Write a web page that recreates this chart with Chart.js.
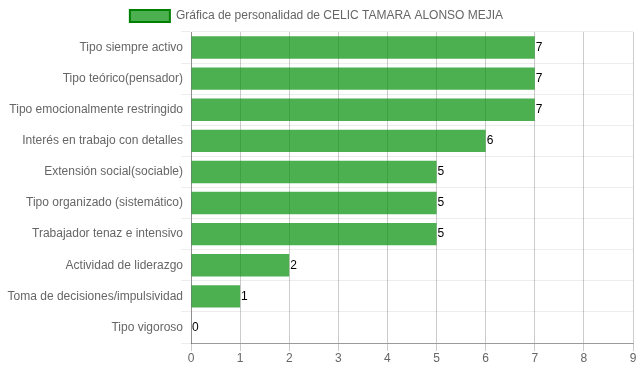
<!DOCTYPE html>
<html>
<head>
<meta charset="utf-8">
<script src="https://cdn.jsdelivr.net/npm/chart.js@4/dist/chart.umd.min.js"></script>
<style>
  html, body { margin: 0; padding: 0; background: #fff; }
  #wrap { width: 639px; height: 372px; }
</style>
</head>
<body>
<div id="wrap"><canvas id="chart"></canvas></div>
<script>
const categories = [
    'Tipo siempre activo',
    'Tipo teórico(pensador)',
    'Tipo emocionalmente restringido',
    'Interés en trabajo con detalles',
    'Extensión social(sociable)',
    'Tipo organizado (sistemático)',
    'Trabajador tenaz e intensivo',
    'Actividad de liderazgo',
    'Toma de decisiones/impulsividad',
    'Tipo vigoroso'
];
const scores = [7, 7, 7, 6, 5, 5, 5, 2, 1, 0];
const seriesLabel = 'Gráfica de personalidad de CELIC TAMARA ALONSO MEJIA';
const xMin = 0;
const xMax = 9;

Chart.defaults.font.family = '"Liberation Sans", Arial, sans-serif';
Chart.defaults.font.size = 12;
Chart.defaults.color = '#666';

// writes the value just after the end of each bar
const valueLabels = {
    id: 'valueLabels',
    afterDatasetsDraw(chart) {
        const ctx = chart.ctx;
        const meta = chart.getDatasetMeta(0);
        ctx.save();
        ctx.fillStyle = '#000';
        ctx.font = '12px "Liberation Sans", Arial, sans-serif';
        ctx.textAlign = 'left';
        ctx.textBaseline = 'middle';
        meta.data.forEach((bar, i) => {
            ctx.fillText(String(scores[i]), bar.x + 1, bar.y);
        });
        ctx.restore();
    }
};

const ctx = document.getElementById('chart').getContext('2d');
new Chart(ctx, {
    type: 'bar',
    data: {
        labels: categories,
        datasets: [{
            label: seriesLabel,
            data: scores,
            backgroundColor: 'rgba(0, 141, 6, 0.7)',
            borderWidth: 0,
            barPercentage: 0.9,
            categoryPercentage: 0.8
        }]
    },
    options: {
        indexAxis: 'y',
        responsive: true,
        maintainAspectRatio: false,
        animation: false,
        layout: { padding: { right: 6 } },
        scales: {
            x: {
                min: xMin,
                max: xMax,
                ticks: { stepSize: 1, color: '#666', padding: 0 },
                grid: { color: 'rgba(0,0,0,0.2)', tickLength: 8 },
                border: { color: 'rgba(0,0,0,0.35)' },
                afterFit(scale) { scale.height = 29; }
            },
            y: {
                ticks: { color: '#666', padding: -2 },
                grid: { color: 'rgba(0,0,0,0.07)', tickLength: 10, offset: true },
                border: { color: 'rgba(0,0,0,0.3)' },
                afterFit(scale) { scale.width = 191; }
            }
        },
        plugins: {
            legend: {
                position: 'top',
                labels: {
                    boxWidth: 40,
                    boxHeight: 12,
                    color: '#666',
                    generateLabels(chart) {
                        return [{
                            text: seriesLabel,
                            fillStyle: 'rgba(0, 141, 6, 0.7)',
                            strokeStyle: 'green',
                            fontColor: '#666',
                            lineWidth: 2,
                            datasetIndex: 0,
                            hidden: false
                        }];
                    }
                }
            },
            tooltip: { enabled: false }
        }
    },
    plugins: [valueLabels]
});
</script>
</body>
</html>
